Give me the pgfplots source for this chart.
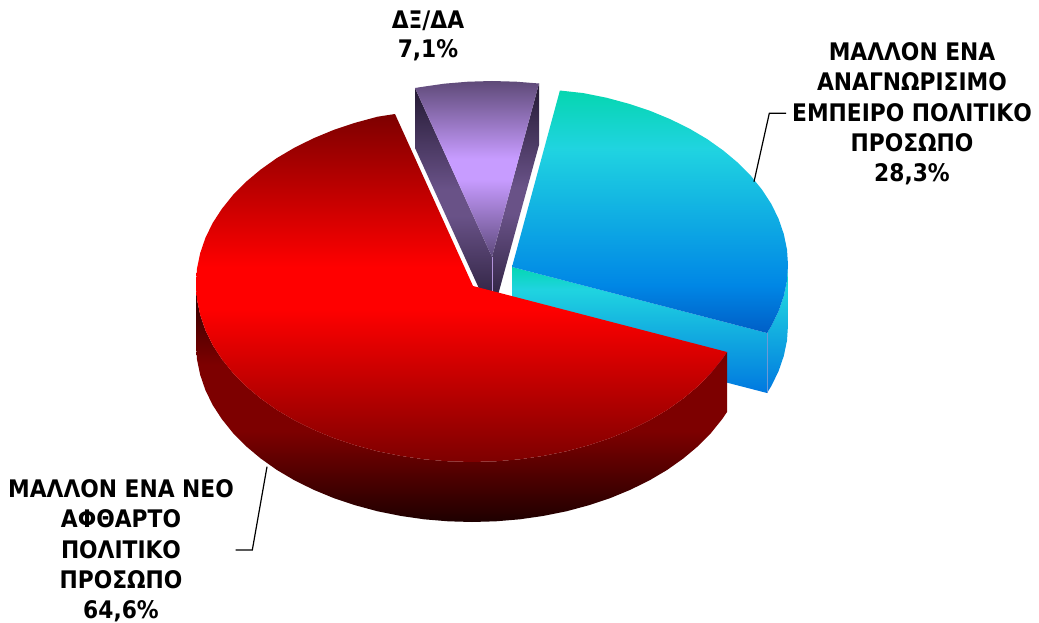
\documentclass[border=0pt]{standalone}
\usepackage{fontspec}
\setmainfont{DejaVu Sans Condensed}
\usepackage{pgfplots}
\pgfplotsset{compat=1.18}
\definecolor{pt2}{RGB}{200,155,255}
\pgfdeclareverticalshading{blueTop}{100bp}{
 rgb(0bp)=(0,0.37,0.78); rgb(25bp)=(0,0.37,0.78); rgb(35bp)=(0,0.53,0.90);
 rgb(63bp)=(0.125,0.83,0.88); rgb(75bp)=(0.02,0.84,0.69); rgb(100bp)=(0.02,0.84,0.69)}
\pgfdeclareverticalshading{blueWall}{100bp}{
 rgb(0bp)=(0,0.47,0.88); rgb(25bp)=(0,0.47,0.88);
 rgb(66bp)=(0.125,0.83,0.88); rgb(75bp)=(0.02,0.84,0.70); rgb(100bp)=(0.02,0.84,0.70)}
\pgfdeclareverticalshading{redTop}{100bp}{
 rgb(0bp)=(0.49,0,0); rgb(25bp)=(0.49,0,0); rgb(47bp)=(1,0,0); rgb(53bp)=(1,0,0); rgb(75bp)=(0.49,0,0); rgb(100bp)=(0.49,0,0)}
\pgfdeclareverticalshading{redWall}{100bp}{
 rgb(0bp)=(0.118,0,0); rgb(25bp)=(0.118,0,0); rgb(44bp)=(0.49,0,0); rgb(58bp)=(0.49,0,0); rgb(75bp)=(0.157,0,0); rgb(100bp)=(0.157,0,0)}
\pgfdeclareverticalshading{purpleTop}{100bp}{
 rgb(0bp)=(0.37,0.29,0.49); rgb(25bp)=(0.37,0.29,0.49); rgb(47bp)=(0.78,0.61,1); rgb(53bp)=(0.78,0.61,1); rgb(75bp)=(0.37,0.29,0.47); rgb(100bp)=(0.37,0.29,0.47)}
\pgfdeclareverticalshading{purpleWall}{100bp}{
 rgb(0bp)=(0.14,0.10,0.20); rgb(25bp)=(0.14,0.10,0.20); rgb(47bp)=(0.41,0.32,0.53); rgb(53bp)=(0.41,0.32,0.53); rgb(75bp)=(0.14,0.10,0.20); rgb(100bp)=(0.14,0.10,0.20)}
\newcommand{\lab}{\fontsize{24.2}{30.3}\selectfont\bfseries}
\newcommand{\labb}{\fontsize{24.2}{28.5}\selectfont\bfseries}
\begin{document}
\begin{tikzpicture}
\useasboundingbox (0,0) rectangle (1039pt,623pt);
\begin{axis}[
  at={(0,0)}, anchor=south west,
  scale only axis, width=1039pt, height=623pt,
  xmin=0, xmax=1039, ymin=0, ymax=623, y dir=reverse,
  hide axis, clip=false]
% purple walls
\addplot[draw=none, shade, shading=purpleWall] coordinates {
 (415,88) (492,257) (492,317) (415,148)} -- cycle;
\addplot[draw=none, shade, shading=purpleWall] coordinates {
 (539,83.5) (492,257) (492,317) (539,145)} -- cycle;
\addplot[draw=pt2!70!gray, line width=0.5pt] coordinates {(492,257) (492,293)};
% purple top
\addplot[draw=none, shade, shading=purpleTop] coordinates {
 (492,257) (415,88) (420.6,87.1) (444.1,83.7) (467.9,81.7) (492,81) (516.1,81.7) (539,83.5)} -- cycle;
% blue inner wall
\addplot[draw=none, shade, shading=blueWall] coordinates {
 (512,267) (767,333) (767,393) (512,327)} -- cycle;
% blue outer wall
\addplot[draw=none, shade, shading=blueWall] coordinates {
 (788,265) (787,280.5) (783.8,295.9) (778.6,311.1) (771.4,325.9) (767,333) (767,393)
 (771.4,385.9) (778.6,371.1) (783.8,355.9) (787,340.5) (788,325)} -- cycle;
\addplot[draw=cyan!50!blue!60!white, line width=0.5pt] coordinates {(767,333) (767,393)};
% blue top
\addplot[draw=none, shade, shading=blueTop] coordinates {
 (512,267) (559.9,90.5) (583.4,93.1) (606.4,97.7) (628.6,103.7) (650,110.8) (670.3,119.2)
 (689.4,128.6) (707.2,139.1) (723.4,150.6) (738.1,162.9) (751,176) (762.1,189.8)
 (771.4,204.1) (778.6,218.9) (783.8,234.1) (787,249.5) (788,265) (787,280.5)
 (783.8,295.9) (778.6,311.1) (771.4,325.9) (767,333)} -- cycle;
% red outer wall
\addplot[draw=none, shade, shading=redWall] coordinates {
 (196,284) (197,299.5) (200.2,314.9) (205.4,330.1) (212.6,344.9) (221.9,359.2) (233,373)
 (245.9,386.1) (260.6,398.4) (276.8,409.9) (294.6,420.4) (313.7,429.8) (334,438.2)
 (355.4,445.3) (377.6,451.3) (400.6,455.9) (424.1,459.3) (447.9,461.3) (472,462)
 (496.1,461.3) (519.9,459.3) (543.4,455.9) (566.4,451.3) (588.6,445.3) (610,438.2)
 (630.3,429.8) (649.4,420.4) (667.2,409.9) (683.4,398.4) (698.1,386.1) (711,373)
 (722.1,359.2) (727,352) (727,412) (722.1,419.2) (711,433) (698.1,446.1) (683.4,458.4)
 (667.2,469.9) (649.4,480.4) (630.3,489.8) (610,498.2) (588.6,505.3) (566.4,511.3)
 (543.4,515.9) (519.9,519.3) (496.1,521.3) (472,522) (447.9,521.3) (424.1,519.3)
 (400.6,515.9) (377.6,511.3) (355.4,505.3) (334,498.2) (313.7,489.8) (294.6,480.4)
 (276.8,469.9) (260.6,458.4) (245.9,446.1) (233,433) (221.9,419.2) (212.6,404.9)
 (205.4,390.1) (200.2,374.9) (197,359.5) (196,344)} -- cycle;
% red top
\addplot[draw=none, shade, shading=redTop] coordinates {
 (473,286) (395,114) (377.6,116.7) (355.4,122.7) (334,129.8) (313.7,138.2) (294.6,147.6)
 (276.8,158.1) (260.6,169.6) (245.9,181.9) (233,195) (221.9,208.8) (212.6,223.1)
 (205.4,237.9) (200.2,253.1) (197,268.5) (196,284) (197,299.5) (200.2,314.9) (205.4,330.1)
 (212.6,344.9) (221.9,359.2) (233,373) (245.9,386.1) (260.6,398.4) (276.8,409.9)
 (294.6,420.4) (313.7,429.8) (334,438.2) (355.4,445.3) (377.6,451.3) (400.6,455.9)
 (424.1,459.3) (447.9,461.3) (472,462) (496.1,461.3) (519.9,459.3) (543.4,455.9)
 (566.4,451.3) (588.6,445.3) (610,438.2) (630.3,429.8) (649.4,420.4) (667.2,409.9)
 (683.4,398.4) (698.1,386.1) (711,373) (722.1,359.2) (727,352)} -- cycle;
% leader lines
\addplot[black, line width=1.2pt] coordinates {(754,181.7) (769.3,113.3) (786,113.3)};
\addplot[black, line width=1.2pt] coordinates {(267,466.7) (252.3,550) (235.7,550)};
% labels
\node[align=center, font=\lab] at (axis cs:912,114) {ΜΑΛΛΟΝ ΕΝΑ\\ΑΝΑΓΝΩΡΙΣΙΜΟ\\ΕΜΠΕΙΡΟ ΠΟΛΙΤΙΚΟ\\ΠΡΟΣΩΠΟ\\28,3\%};
\node[align=center, font=\lab, inner sep=0pt] at (axis cs:121,551) {ΜΑΛΛΟΝ ΕΝΑ ΝΕΟ\\ΑΦΘΑΡΤΟ\\ΠΟΛΙΤΙΚΟ\\ΠΡΟΣΩΠΟ\\64,6\%};
\node[align=center, font=\labb] at (axis cs:428,35.7) {ΔΞ/ΔΑ\\7,1\%};
\end{axis}
\end{tikzpicture}
\end{document}
